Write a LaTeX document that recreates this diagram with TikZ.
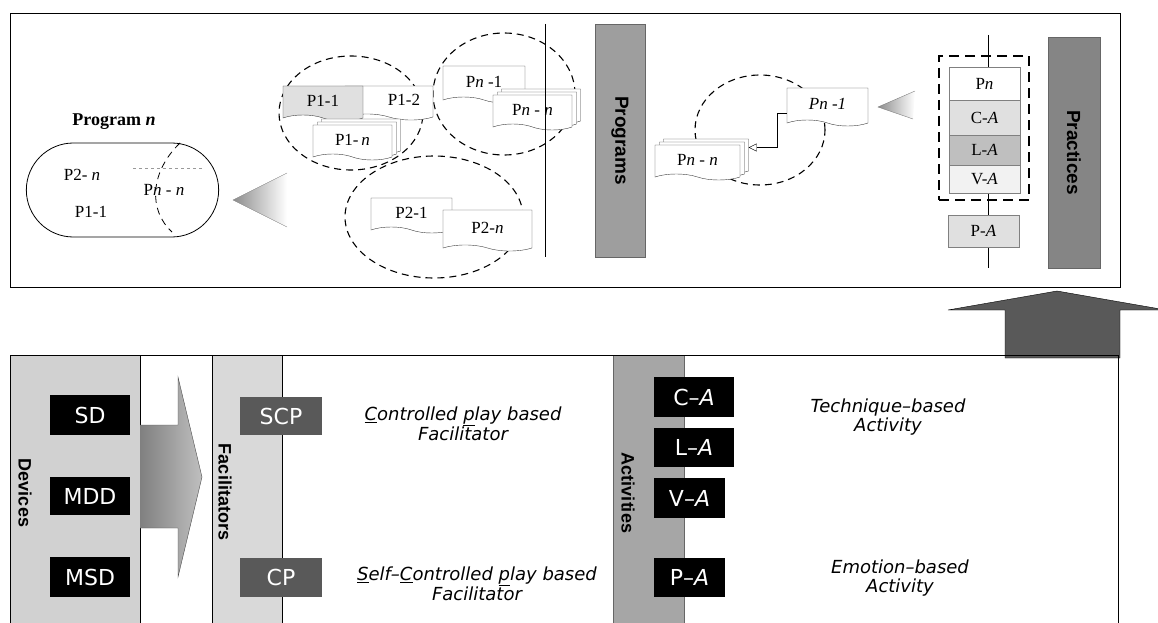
\documentclass[tikz,border=0pt]{standalone}
\usepackage{fontspec}
\setmainfont{Liberation Serif}
\setsansfont{Liberation Sans}
\newfontfamily\notefont[Ligatures=TeX]{DejaVu Sans}
\usetikzlibrary{positioning,shapes.geometric,shapes.symbols,shapes.misc,arrows.meta}

\begin{document}
\begin{tikzpicture}[x=1pt, y=-1pt,
		doc/.style={tape, tape bend top=none, tape bend bottom=out and in, tape bend height=6pt, draw=black!75, fill=white, inner sep=0pt, font=\fontsize{17}{19}\selectfont},
		grp/.style={ellipse, draw, dash pattern=on 7pt off 5pt, line width=1.1pt, inner sep=0pt},
		bar/.style={draw=black!60, inner sep=0pt, font=\sffamily\bfseries\fontsize{19}{20}\selectfont},
		barlbl/.style={rotate=-90, font=\sffamily\bfseries\fontsize{18}{20}\selectfont},
		blk/.style={fill=black, text=white, inner sep=0pt, minimum width=80pt, minimum height=40pt, font=\notefont\fontsize{22}{24}\selectfont},
		note/.style={align=center, font=\notefont\itshape\fontsize{18}{19}\selectfont},
		pra/.style={draw=black!50, inner sep=0pt, minimum width=71pt, font=\fontsize{17}{19}\selectfont}]
		\useasboundingbox (0,0) rectangle (1158,623);
		\draw[thick] (10,13) rectangle (1120,287);
		\node[bar, fill=black!38, rotate=-90, minimum width=233pt, minimum height=50pt] (progbar) at (620,140.5) {Programs};
		\node[bar, fill=black!48, rotate=-90, minimum width=231pt, minimum height=52pt] (pracbar) at (1074,152.5) {Practices};
		\node[grp, minimum width=144pt, minimum height=114pt] (grpa) at (351,113) {};
		\node[grp, minimum width=142pt, minimum height=122pt] (grpb) at (504,94) {};
		\node[grp, minimum width=178pt, minimum height=122pt] (grpc) at (434,217) {};
		\node[grp, minimum width=130pt, minimum height=110pt] (grpd) at (760,130) {};
		\node[doc, minimum width=88pt, minimum height=34pt] (ponetwo) at (389,100) {\hspace*{30pt}P1-2};
		\node[doc, fill=black!12, minimum width=80pt, minimum height=35pt] (poneone) at (323,100.5) {P1-1};
		\node[doc, minimum width=79pt, minimum height=35pt] (ponenb) at (361,133.5) {};
		\node[doc, minimum width=79pt, minimum height=35pt] (ponena) at (357,136.5) {};
		\node[doc, minimum width=79pt, minimum height=35pt] (ponen) at (352.5,139.5) {P1-\,\textit{n}};
		\node[doc, minimum width=82pt, minimum height=37pt] (pnone) at (484,81.5) {P\textit{n} -1};
		\node[doc, minimum width=79pt, minimum height=35pt] (pnnb) at (541,103.5) {};
		\node[doc, minimum width=79pt, minimum height=35pt] (pnna) at (537,106.5) {};
		\node[doc, minimum width=79pt, minimum height=35pt] (pnn) at (532.5,109.5) {P\textit{n} - \textit{n}};
		\node[doc, minimum width=81pt, minimum height=35pt] (ptwoone) at (411.5,212.5) {P2-1};
		\node[doc, minimum width=89pt, minimum height=41pt] (ptwon) at (487.5,227.5) {P2-\textit{n}};
		\draw (545,24) -- (545,257);
		\node[doc, minimum width=85pt, minimum height=35pt] (pnnrb) at (706,153.5) {};
		\node[doc, minimum width=85pt, minimum height=35pt] (pnnra) at (702,156.5) {};
		\node[doc, minimum width=85pt, minimum height=35pt] (pnnr) at (697.5,159.5) {P\textit{n} - \textit{n}};
		\node[doc, minimum width=81pt, minimum height=38pt] (pnoner) at (827.5,104) {\textit{Pn -1}};
		\draw[-{Triangle[open, length=8pt, width=8pt]}] ([yshift=-9pt]pnoner.west) -- ++(-10,0) |- ([yshift=6pt]pnnrb.east);
		\coordinate (prtop) at (988,35);
		\coordinate (prbot) at (988,268);
		\draw (prtop) -- (prbot);
		\node[draw, dash pattern=on 10pt off 6pt, very thick, minimum width=90pt, minimum height=144pt] (pracgrp) at (984,128) {};
		\node[pra, fill=white, minimum height=33pt] (pn) at (984.5,83.5) {P\textit{n}};
		\node[pra, fill=black!12, minimum height=35pt] (ca) at (984.5,117.5) {C-\textit{A}};
		\node[pra, fill=black!25, minimum height=30pt] (la) at (984.5,150) {L-\textit{A}};
		\node[pra, fill=black!5, minimum height=28pt] (va) at (984.5,179) {V-\textit{A}};
		\node[pra, fill=black!12, minimum height=32pt] (pa) at (983.5,231) {P-\textit{A}};
		\shade[left color=black!45, right color=white] (878,107) -- (915,91) -- (913,119) -- cycle;
		\draw[black!50] (915,91) -- (878,107) -- (913,119);
		\shade[left color=black!45, right color=white] (233,200) -- (287,173) -- (287,227) -- cycle;
		\draw[black!50] (287,173) -- (233,200) -- (287,227);
		\node[rounded rectangle, draw, thick, minimum width=199pt, minimum height=94pt] (prog) at (122.5,190) {};
		\node[font=\bfseries\fontsize{18}{20}\selectfont] (progttl) at (114,122) {Program \textit{n}};
		\draw[dashed, black!40] (133,168) -- (203,168);
		\draw[dash pattern=on 7pt off 5pt, thick] (180,143) .. controls (150,172) and (148,210) .. (172,232);
		\node[font=\fontsize{17}{19}\selectfont] (progptwo) at (82,175) {P2- \textit{n}};
		\node[font=\fontsize{17}{19}\selectfont] (progpnn) at (164,190) {P\textit{n} - \textit{n}};
		\node[font=\fontsize{17}{19}\selectfont] (progpone) at (91,212) {P1-1};
		\filldraw[fill=black!65, draw=black] (1005,358) -- (1005,310) -- (948,310) -- (1057,291) -- (1166,310) -- (1120,310) -- (1120,358) -- cycle;
		\filldraw[fill=black!18, draw=black] (10,355) rectangle (140,630);
		\filldraw[fill=black!15, draw=black] (212,355) rectangle (282,630);
		\filldraw[fill=black!35, draw=black!60] (613,355) rectangle (684,630);
		\draw[draw=black!70, left color=black!50, right color=black!25] (140,425) -- (178,425) -- (178,377) -- (202,477) -- (178,577) -- (178,528) -- (140,528);
		\draw[thick] (10,355) -- (1118,355) -- (1118,623);
		\node[barlbl] (devlbl) at (25,493) {Devices};
		\node[barlbl] (faclbl) at (225,492) {Facilitators};
		\node[barlbl] (actlbl) at (628,493) {Activities};
		\node[blk] (sd) at (90,415) {SD};
		\node[blk, minimum height=38pt] (mdd) at (90,496) {MDD};
		\node[blk] (msd) at (90,577) {MSD};
		\node[blk, fill=black!65, minimum width=82pt, minimum height=38pt] (scp) at (281,416) {SCP};
		\node[blk, fill=black!65, minimum width=82pt, minimum height=39pt] (cp) at (281,577.5) {CP};
		\node[blk] (cat) at (694,397) {C--\textit{A}};
		\node[blk, minimum height=39pt] (lat) at (694,447.5) {L--\textit{A}};
		\node[blk, minimum width=71pt] (vat) at (689.5,498) {V--\textit{A}};
		\node[blk, minimum width=71pt, minimum height=39pt] (pat) at (689.5,577.5) {P--\textit{A}};
		\node[note] (scpnote) at (463,424) {\underline{C}ontrolled \underline{p}lay based\\Facilitator};
		\node[note] (cpnote) at (477,584) {\underline{S}elf--\underline{C}ontrolled \underline{p}lay based\\Facilitator};
		\node[note] (technote) at (888,417) {Technique--based\\Activity};
		\node[note] (emonote) at (900,578) {Emotion--based\\Activity};
	\end{tikzpicture}
\end{document}
